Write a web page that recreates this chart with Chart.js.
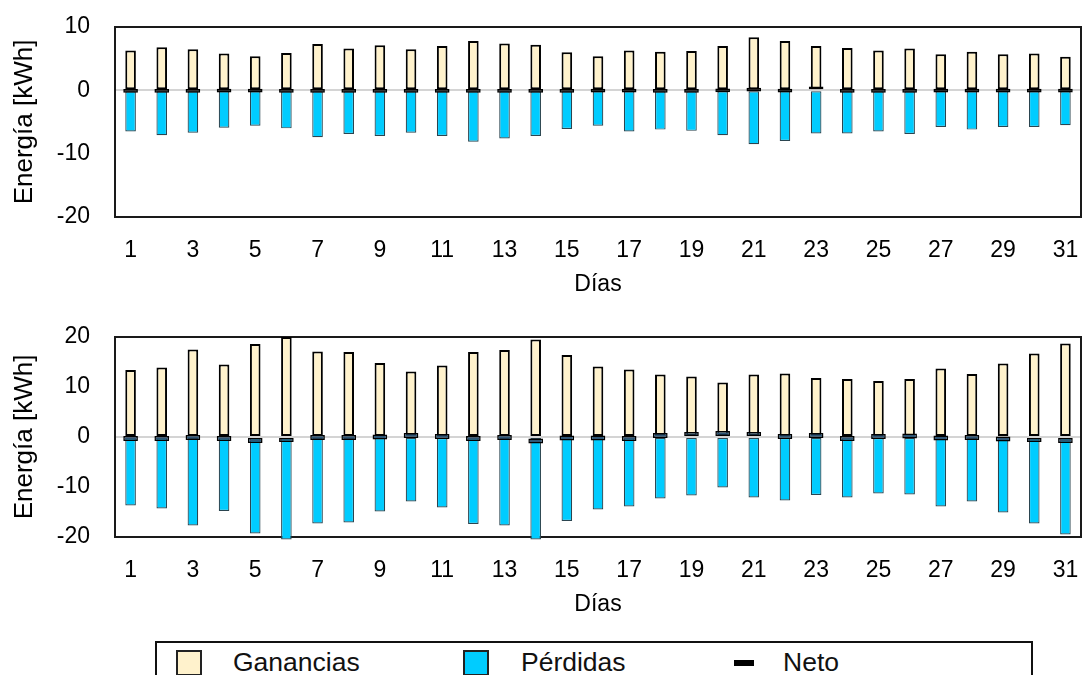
<!DOCTYPE html>
<html lang="es">

<head>
    <meta charset="UTF-8">
    <script src="https://cdnjs.cloudflare.com/ajax/libs/Chart.js/4.4.1/chart.umd.min.js"></script>
    <title>Energía diaria</title>
    <style>
        body { margin: 0; background: #fff; font-family: "Liberation Sans", Arial, sans-serif; }
        .lienzo { position: absolute; left: 0; }
        #leyenda {
            position: absolute; left: 155px; top: 641px; width: 878px; height: 60px;
            border: 2px solid #111; box-sizing: border-box;
        }
        .item { position: absolute; top: 5px; font-size: 26.5px; line-height: 28px; color: #111; }
        .caja { position: absolute; top: 7px; width: 22px; height: 22px; border: 2px solid #222; }
    </style>
</head>

<body>
    <canvas id="grafico1" class="lienzo" width="1082" height="300" style="top:0px"></canvas>
    <canvas id="grafico2" class="lienzo" width="1082" height="320" style="top:300px"></canvas>

    <div id="leyenda">
        <div class="caja" style="left:19px; background:#fff2cc"></div>
        <div class="item" style="left:76px">Ganancias</div>
        <div class="caja" style="left:306px; background:#00ccff"></div>
        <div class="item" style="left:364px">Pérdidas</div>
        <div style="position:absolute; left:577px; top:17px; width:20px; height:6px; background:#000"></div>
        <div class="item" style="left:626px">Neto</div>
    </div>

<script>
    // dias del mes
    var dias = [];
    for (var d = 1; d <= 31; d++) dias.push(String(d));

    // grafico de arriba (kWh)
    var ganancias1 = [6.3, 6.8, 6.5, 5.8, 5.4, 5.9, 7.3, 6.6, 7.1, 6.5, 7.0, 7.8, 7.4, 7.2, 6.0, 5.4,
        6.3, 6.1, 6.2, 7.0, 8.4, 7.8, 7.0, 6.7, 6.3, 6.6, 5.7, 6.1, 5.7, 5.8, 5.3];
    var perdidas1 = [-6.5, -7.1, -6.7, -5.9, -5.6, -6.0, -7.4, -6.9, -7.2, -6.7, -7.2, -8.1, -7.6, -7.2, -6.1, -5.6,
        -6.5, -6.2, -6.4, -7.1, -8.5, -8.0, -6.8, -6.8, -6.5, -6.9, -5.8, -6.2, -5.8, -5.8, -5.5];
    var neto1 = [-0.1, -0.1, -0.1, -0.05, -0.05, -0.1, -0.1, -0.1, -0.1, -0.1, -0.1, -0.1, -0.1, -0.1, -0.1, -0.05,
        -0.05, -0.1, -0.1, 0.0, 0.1, -0.05, 0.3, -0.1, -0.1, -0.1, -0.05, -0.05, -0.05, -0.05, -0.05];

    // grafico de abajo (kWh)
    var ganancias2 = [13.4, 13.9, 17.5, 14.5, 18.6, 20.0, 17.1, 17.0, 14.8, 13.1, 14.3, 17.0, 17.4, 19.5, 16.4, 14.1,
        13.5, 12.5, 12.1, 10.9, 12.5, 12.7, 11.8, 11.6, 11.2, 11.6, 13.7, 12.6, 14.7, 16.7, 18.7];
    var perdidas2 = [-13.7, -14.3, -17.7, -14.8, -19.3, -20.5, -17.3, -17.1, -14.9, -12.9, -14.1, -17.4, -17.7, -20.5, -16.8, -14.5,
        -13.9, -12.3, -11.7, -10.1, -12.1, -12.7, -11.6, -12.1, -11.3, -11.5, -13.9, -12.9, -15.1, -17.3, -19.5];
    var neto2 = [-0.3, -0.3, -0.1, -0.3, -0.7, -0.5, -0.1, -0.1, 0.0, 0.3, 0.1, -0.3, -0.1, -0.8, -0.2, -0.2,
        -0.3, 0.3, 0.5, 0.7, 0.5, 0.1, 0.3, -0.3, 0.1, 0.2, -0.2, -0.1, -0.4, -0.5, -0.7];

    var fuente = '"Liberation Sans", Arial, sans-serif';
    var nada = 'rgba(0,0,0,0)';

    // marco negro alrededor del area del grafico
    var marco = {
        id: 'marco',
        beforeDatasetsDraw: function (chart) {
            var a = chart.chartArea, ctx = chart.ctx;
            ctx.save();
            ctx.strokeStyle = '#1a1a1a';
            ctx.lineWidth = 2;
            ctx.strokeRect(a.left, a.top, a.right - a.left, a.bottom - a.top);
            ctx.restore();
        }
    };

    function crearGrafico(id, gan, per, neto, min, max, arriba, medio, colorNeto) {
        var ctx = document.getElementById(id).getContext('2d');
        return new Chart(ctx, {
            type: 'bar',
            data: {
                labels: dias,
                datasets: [
                    {
                        label: 'Neto',
                        data: neto.map(function (v) { return [v - medio, v + medio]; }),
                        backgroundColor: colorNeto,
                        borderColor: '#000',
                        borderWidth: 1.5,
                        borderSkipped: false,
                        barPercentage: 0.47,
                        order: 0,
                        clip: false
                    },
                    {
                        label: 'Ganancias',
                        data: gan,
                        backgroundColor: '#fff2cc',
                        borderColor: '#000',
                        borderWidth: 2,
                        borderSkipped: false,
                        barPercentage: 0.34,
                        order: 1,
                        clip: false
                    },
                    {
                        label: 'Pérdidas',
                        data: per,
                        backgroundColor: '#00ccff',
                        borderColor: '#2b4550',
                        borderWidth: 1.2,
                        borderSkipped: false,
                        barPercentage: 0.34,
                        order: 1,
                        clip: false
                    }
                ]
            },
            options: {
                responsive: false,
                animation: false,
                datasets: { bar: { grouped: false, categoryPercentage: 1 } },
                layout: { padding: { top: arriba, right: 1, left: 0, bottom: 0 } },
                plugins: { legend: { display: false }, tooltip: { enabled: false } },
                scales: {
                    x: {
                        // las marcas invisibles hacen de separacion para las etiquetas
                        grid: { color: nada, tickColor: nada, drawTicks: true, tickLength: 20 },
                        border: { display: false },
                        ticks: {
                            autoSkip: false, maxRotation: 0, padding: 0, color: '#000',
                            font: { family: fuente, size: 23 },
                            callback: function (val, i) { return i % 2 === 0 ? this.getLabelForValue(val) : ''; }
                        },
                        title: {
                            display: true, text: 'Días', color: '#000',
                            font: { family: fuente, size: 23 }, padding: { top: 0, bottom: 2 }
                        },
                        afterFit: function (s) { s.height = 83; }
                    },
                    y: {
                        min: min, max: max,
                        grid: {
                            drawTicks: true, tickLength: 25, tickColor: nada, lineWidth: 2,
                            color: function (c) { return c.tick && c.tick.value === 0 ? '#d4d4d4' : nada; }
                        },
                        border: { display: false },
                        ticks: { stepSize: 10, padding: 0, color: '#000', font: { family: fuente, size: 23 } },
                        title: {
                            display: true, text: 'Energía [kWh]', color: '#000',
                            font: { family: fuente, size: 26 }, padding: { top: 9, bottom: 0 }
                        },
                        afterFit: function (s) { s.width = 115; }
                    }
                }
            },
            plugins: [marco]
        });
    }

    crearGrafico('grafico1', ganancias1, perdidas1, neto1, -20, 10, 27, 0.3, '#000');
    crearGrafico('grafico2', ganancias2, perdidas2, neto2, -20, 20, 37, 0.5, '#2e5574');
</script>
</body>

</html>
